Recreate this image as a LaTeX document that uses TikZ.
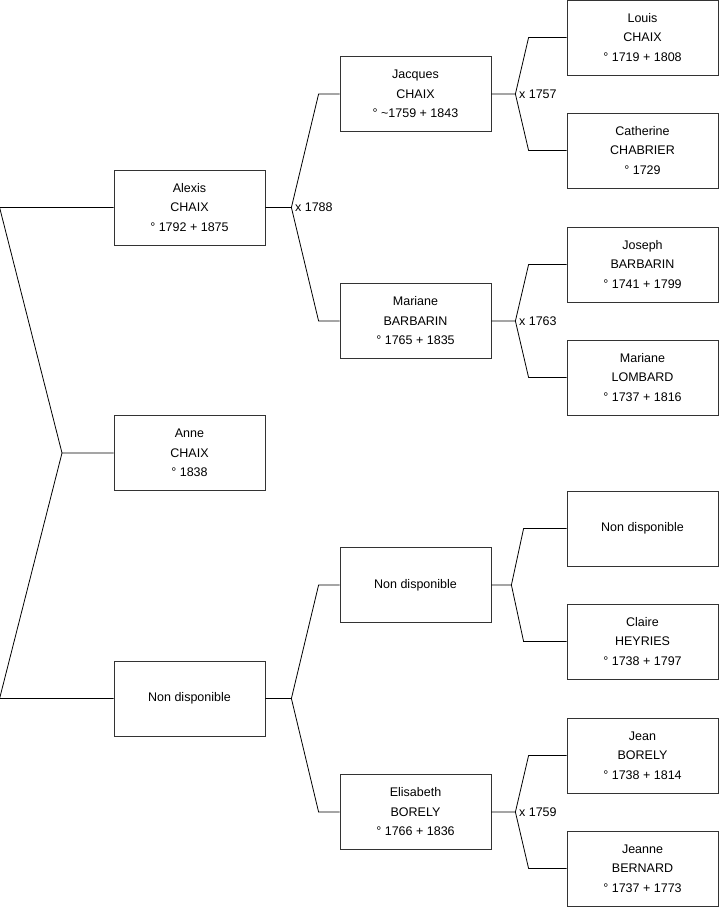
\documentclass[tikz,border=0pt]{standalone}
\usepackage{fontspec}
\setmainfont{Liberation Sans}
\usepackage{tikz}

\tikzset{
  person/.style={draw=black!80, line width=0.8pt, minimum width=151pt, minimum height=75pt,
    align=center, inner sep=0pt, font=\fontsize{12.5}{19.5}\selectfont},
  link/.style={draw=black, line width=0.8pt},
  wed/.style={anchor=west, inner sep=3.5pt, font=\fontsize{12.5}{15}\selectfont}
}

\begin{document}
\begin{tikzpicture}[x=1pt,y=-1pt]
  \useasboundingbox (0,0) rectangle (719,908);
  % generation 0
  \node[person] (anne) at (189.5,453) {Anne\\CHAIX\\° 1838};
  % parents
  \node[person] (alexis) at (189.5,207.5) {Alexis\\CHAIX\\° 1792 + 1875};
  \node[person] (mere) at (189.5,698.5) {Non disponible};
  % grand parents
  \node[person] (jacques) at (415.5,94) {Jacques\\CHAIX\\° \textasciitilde1759 + 1843};
  \node[person] (mariane) at (415.5,321) {Mariane\\BARBARIN\\° 1765 + 1835};
  \node[person] (gpere) at (415.5,585) {Non disponible};
  \node[person] (elisabeth) at (415.5,812) {Elisabeth\\BORELY\\° 1766 + 1836};
  % great grand parents
  \node[person] (louis) at (642.5,37.5) {Louis\\CHAIX\\° 1719 + 1808};
  \node[person] (catherine) at (642.5,150.5) {Catherine\\CHABRIER\\° 1729};
  \node[person] (joseph) at (642.5,264.5) {Joseph\\BARBARIN\\° 1741 + 1799};
  \node[person] (marianel) at (642.5,377.5) {Mariane\\LOMBARD\\° 1737 + 1816};
  \node[person] (aieul) at (642.5,528.5) {Non disponible};
  \node[person] (claire) at (642.5,641.5) {Claire\\HEYRIES\\° 1738 + 1797};
  \node[person] (jean) at (642.5,755.5) {Jean\\BORELY\\° 1738 + 1814};
  \node[person] (jeanne) at (642.5,868.5) {Jeanne\\BERNARD\\° 1737 + 1773};

  % fork of Anne
  \coordinate (f0) at (62,453);
  \draw[link] (anne.west) -- (f0) -- ([xshift=-114pt]alexis.west) -- (alexis.west);
  \draw[link] (f0) -- ([xshift=-114pt]mere.west) -- (mere.west);

  % fork of Alexis
  \draw[link] (alexis.east) -- ++(26,0) coordinate (f1)
    -- ([xshift=-21pt]jacques.west) -- (jacques.west);
  \draw[link] (f1) -- ([xshift=-21pt]mariane.west) -- (mariane.west);
  \node[wed] at (f1) {x 1788};

  % fork of the mother
  \draw[link] (mere.east) -- ++(26,0) coordinate (f2)
    -- ([xshift=-21pt]gpere.west) -- (gpere.west);
  \draw[link] (f2) -- ([xshift=-21pt]elisabeth.west) -- (elisabeth.west);

  % fork of Jacques
  \draw[link] (jacques.east) -- ++(24,0) coordinate (f3)
    -- ([xshift=-38pt]louis.west) -- (louis.west);
  \draw[link] (f3) -- ([xshift=-38pt]catherine.west) -- (catherine.west);
  \node[wed] at (f3) {x 1757};

  % fork of Mariane
  \draw[link] (mariane.east) -- ++(24,0) coordinate (f4)
    -- ([xshift=-38pt]joseph.west) -- (joseph.west);
  \draw[link] (f4) -- ([xshift=-38pt]marianel.west) -- (marianel.west);
  \node[wed] at (f4) {x 1763};

  % fork of the grand father
  \draw[link] (gpere.east) -- ++(20,0) coordinate (f5)
    -- ([xshift=-43pt]aieul.west) -- (aieul.west);
  \draw[link] (f5) -- ([xshift=-43pt]claire.west) -- (claire.west);

  % fork of Elisabeth
  \draw[link] (elisabeth.east) -- ++(24,0) coordinate (f6)
    -- ([xshift=-38pt]jean.west) -- (jean.west);
  \draw[link] (f6) -- ([xshift=-38pt]jeanne.west) -- (jeanne.west);
  \node[wed] at (f6) {x 1759};
\end{tikzpicture}
\end{document}
